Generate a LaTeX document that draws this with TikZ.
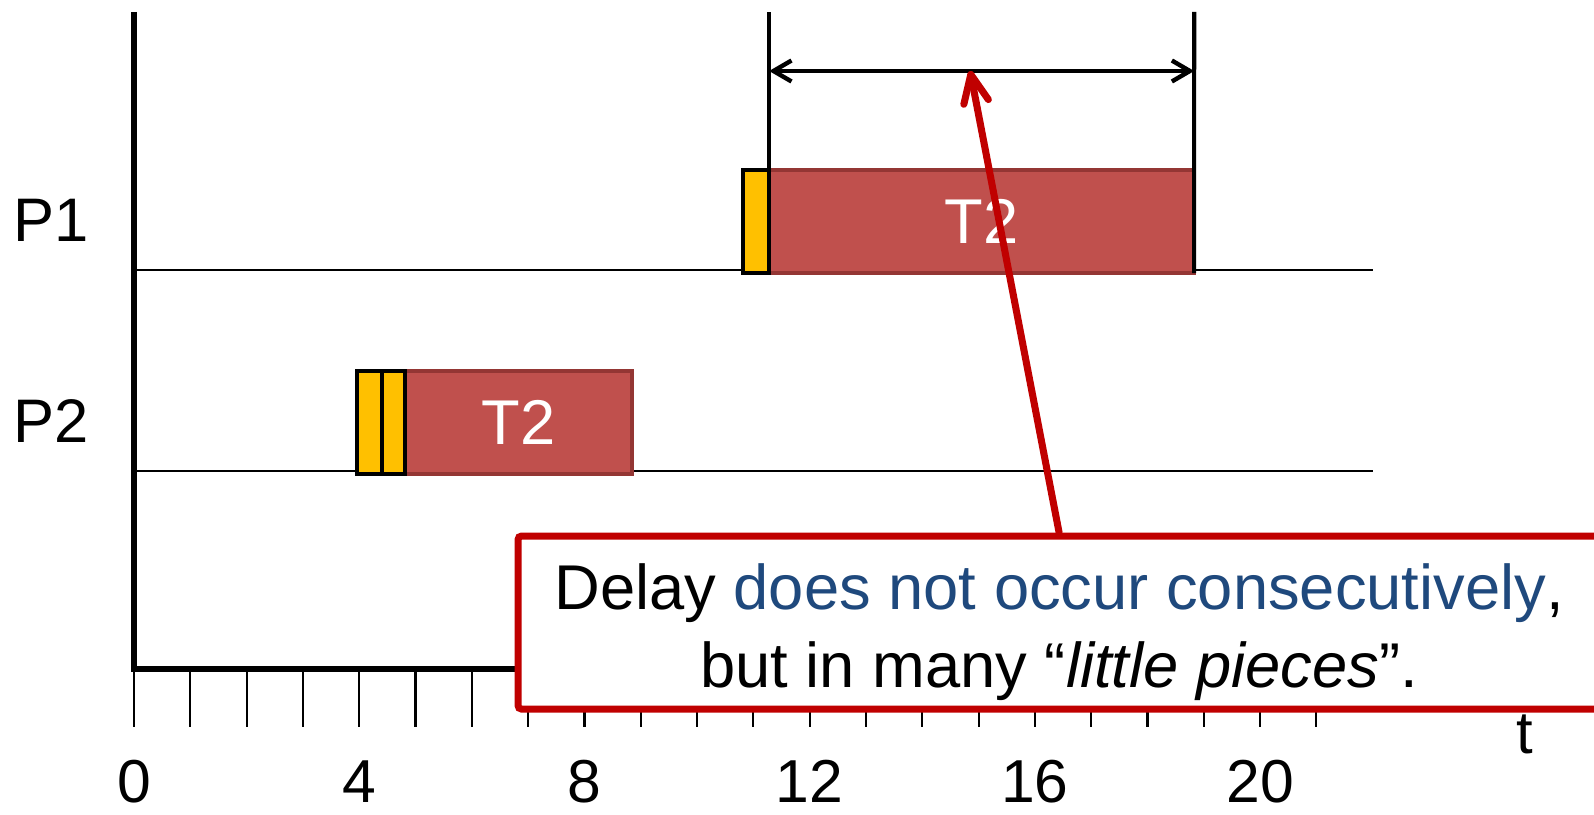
\documentclass[tikz,border=0pt]{standalone}
\usepackage{fontspec}
\setmainfont{Liberation Sans}
\usetikzlibrary{arrows.meta, positioning, calc}
\definecolor{tsk}{HTML}{C0504D}
\definecolor{tskd}{HTML}{943634}
\definecolor{ovh}{HTML}{FFC000}
\definecolor{crd}{HTML}{C00000}
\definecolor{blu}{HTML}{1F497D}
\tikzset{
  task/.style    = {rectangle, draw=tskd, fill=tsk, line width=2pt,
                    minimum height=2.06cm, inner sep=0pt, outer sep=0pt,
                    anchor=south west, text=white,
                    font=\fontsize{36}{40}\selectfont},
  ovhd/.style    = {rectangle, draw=black, fill=ovh, line width=2.4pt,
                    minimum height=2.06cm, inner sep=0pt, outer sep=0pt,
                    anchor=south west},
  proc/.style    = {anchor=base, font=\fontsize{35}{40}\selectfont},
  ticklbl/.style = {anchor=base, font=\fontsize{34.5}{40}\selectfont},
  axis/.style    = {line width=3.8pt},
  tickln/.style  = {line width=1.2pt},
  lane/.style    = {line width=1.2pt},
  mk/.style      = {line width=2.3pt},
  dimarr/.style  = {{Straight Barb[length=0.36cm, width=0.42cm]}-{Straight Barb[length=0.36cm, width=0.42cm]},
                    line width=2.5pt},
  callarr/.style = {-{Straight Barb[length=0.56cm, width=0.5cm, round]},
                    line width=4pt, color=crd, line cap=round},
  note/.style    = {rectangle, rounded corners=2pt, draw=crd, fill=white,
                    line width=4pt, minimum width=21.64cm, minimum height=3.46cm,
                    align=center, font=\fontsize{36}{44}\selectfont},
}

\begin{document}
\begin{tikzpicture}[x=1.126cm]
  \useasboundingbox (-2.38,-2.9) rectangle (25.93,13.38);

  % processor lanes
  \draw[lane] (0,7.98) -- (22,7.98);
  \draw[lane] (0,3.96) -- (22,3.96);
  \node[proc] (pone) at (-1.48,8.56) {P1};
  \node[proc] (ptwo) at (-1.48,4.54) {P2};

  % time axis with ticks
  \foreach \i in {0,...,21}
    \draw[tickln] (\i,0) -- (\i,-1.16);
  \foreach \i in {0,4,...,20}
    \node[ticklbl] (n\i) at (\i,-2.66) {\i};
  \draw[axis] (0,13.14) -- (0,0) -- (22,0);
  \node[ticklbl, font=\fontsize{34}{40}\selectfont] (tlbl) at (24.7,-1.68) {t};

  % T2 on P2, two overhead slices first
  \node[task, minimum width=4.54cm] (tb) at (4.81,3.90) {T2};
  \node[ovhd, minimum width=0.50cm] (obA) at (3.96,3.90) {};
  \node[ovhd, minimum width=0.46cm] (obB) at (4.40,3.90) {};

  % T2 on P1
  \node[task, minimum width=8.50cm] (ta) at (11.28,7.92) {T2};
  \node[ovhd, minimum width=0.52cm] (oa) at (10.82,7.92) {};

  % span markers
  \coordinate (ml) at (11.28,13.14);
  \coordinate (mr) at (18.83,13.14);
  \draw[mk] (ta.south west) -- (ml);
  \draw[mk] (ta.south east) -- (mr);
  \coordinate (dl) at (11.28,11.96);
  \coordinate (dr) at (18.83,11.96);
  \coordinate (hit) at (14.85,11.96);
  \draw[dimarr] (dl) -- (dr);

  % callout, strut pushes the two lines down a little
  \node[note] (note) at (16.43,0.93)
    {\rule{0pt}{1.3cm}Delay \textcolor{blu}{does not occur consecutively},\\
     but in many “\textit{little pieces}”.};
  \draw[callarr] (note.north) -- (hit);

\end{tikzpicture}
\end{document}
